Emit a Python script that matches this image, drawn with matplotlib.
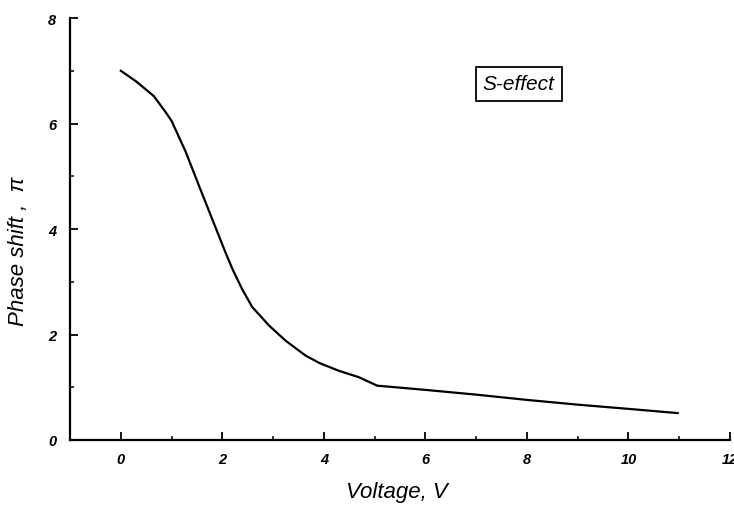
import matplotlib
matplotlib.use("Agg")
import matplotlib.pyplot as plt
from matplotlib.ticker import MultipleLocator

# data
voltage = [0.0, 0.3, 0.65, 0.88, 1.0, 1.28, 1.54, 1.80, 2.06, 2.20, 2.39, 2.59,
           2.92, 3.25, 3.64, 3.91, 4.30, 4.69, 5.05, 6.0, 7.0, 8.0, 9.0, 10.0, 10.97]
phase = [7.0, 6.8, 6.52, 6.22, 6.05, 5.46, 4.82, 4.19, 3.56, 3.24, 2.86, 2.52,
         2.17, 1.88, 1.60, 1.46, 1.31, 1.19, 1.03, 0.95, 0.86, 0.76, 0.67, 0.59, 0.51]

x_ticks = [0, 2, 4, 6, 8, 10, 12]
y_ticks = [0, 2, 4, 6, 8]

plt.rcParams['font.family'] = ['Liberation Sans', 'DejaVu Sans']

fig = plt.figure(figsize=(7.34, 5.10), dpi=100)
ax = fig.add_axes([0.0954, 0.1353, 0.8992, 0.8274])

ax.plot(voltage, phase, color='black', linewidth=1.6)

ax.set_xlim(-1, 12)
ax.set_ylim(0, 8)
ax.set_xticks(x_ticks)
ax.set_yticks(y_ticks)
ax.xaxis.set_minor_locator(MultipleLocator(1))
ax.yaxis.set_minor_locator(MultipleLocator(1))

ax.spines['top'].set_visible(False)
ax.spines['right'].set_visible(False)
ax.spines['left'].set_linewidth(1.6)
ax.spines['bottom'].set_linewidth(1.6)
ax.tick_params(which='major', direction='in', length=6, width=1.3)
ax.tick_params(which='minor', direction='in', length=3, width=1.1)
ax.tick_params(axis='x', pad=9)
ax.tick_params(axis='y', pad=10)

for lab in ax.get_xticklabels() + ax.get_yticklabels():
    lab.set_fontweight('bold')
    lab.set_fontstyle('italic')
    lab.set_fontsize(10.5)

ax.set_xlabel('Voltage, V', fontsize=16, style='italic')
ax.set_ylabel('Phase shift ,  π', fontsize=16, style='italic')
ax.xaxis.set_label_coords(0.495, -0.098)
ax.yaxis.set_label_coords(-0.062, 0.45)

ax.text(7.84, 6.75, 'S-effect', fontsize=15, style='italic', ha='center', va='center',
        bbox=dict(boxstyle='square,pad=0.35', facecolor='white', edgecolor='black', linewidth=1.3))

fig.savefig('out.png', dpi=100)
